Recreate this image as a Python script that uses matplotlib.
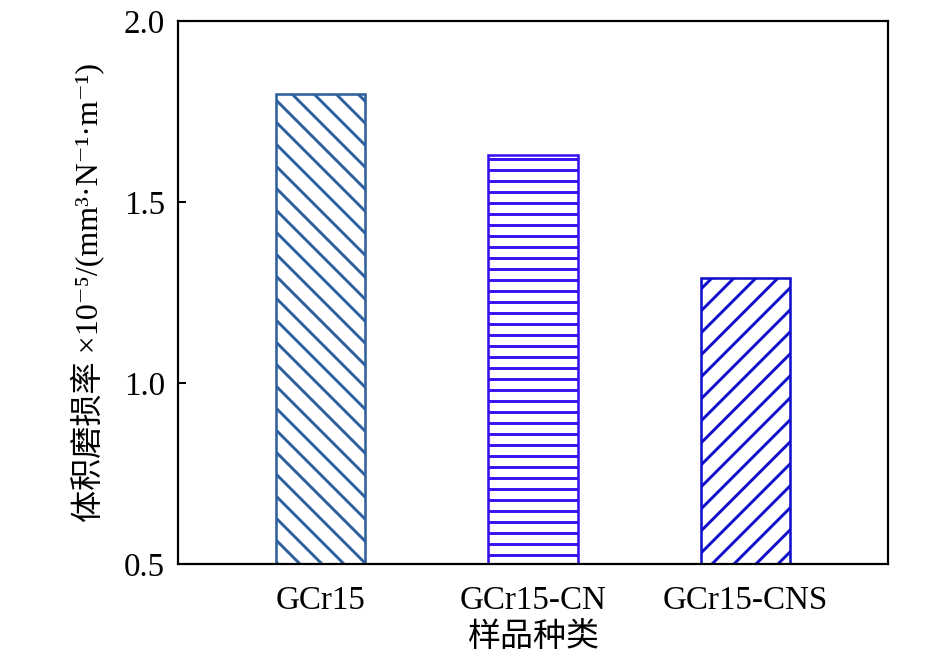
import matplotlib
matplotlib.use("Agg")
import matplotlib.pyplot as plt

# sample data
samples = ["GCr15", "GCr15-CN", "GCr15-CNS"]
wear_rate = [1.80, 1.63, 1.29]
edge_colors = ["#2f5f9c", "#3a10f0", "#1010cc"]
hatches = ["\\\\", "--", "//"]
y_ticks = [0.5, 1.0, 1.5, 2.0]
y_tick_labels = ["0.5", "1.0", "1.5", "2.0"]

plt.rcParams['font.family'] = ['Liberation Serif', 'DejaVu Serif', 'Noto Sans CJK SC']
plt.rcParams['hatch.linewidth'] = 1.6

fig = plt.figure(figsize=(945 / 132, 660 / 132), dpi=132)
ax = fig.add_axes([0.1884, 0.1455, 0.9397 - 0.1884, 0.968 - 0.1455])

x = range(len(samples))
for i in x:
    ax.bar(i, wear_rate[i], width=0.42, bottom=0, facecolor="white",
           edgecolor=edge_colors[i], hatch=hatches[i], linewidth=1.4, zorder=2)

ax.set_xlim(-0.67, 2.67)
ax.set_ylim(0.5, 2.0)
ax.set_yticks(y_ticks)
ax.set_yticklabels(y_tick_labels)
ax.set_xticks(list(x))
ax.set_xticklabels(samples)

ax.tick_params(axis='y', direction='in', length=4.5, width=1.1, labelsize=18, pad=7)
ax.tick_params(axis='x', length=0, labelsize=18, pad=12)
for s in ax.spines.values():
    s.set_linewidth(1.2)

ax.set_xlabel("样品种类", fontsize=18, labelpad=3)
ax.set_ylabel("体积磨损率 ×10⁻⁵/(mm³·N⁻¹·m⁻¹)", fontsize=17.5, labelpad=11)

fig.savefig("out.png", dpi=132)
